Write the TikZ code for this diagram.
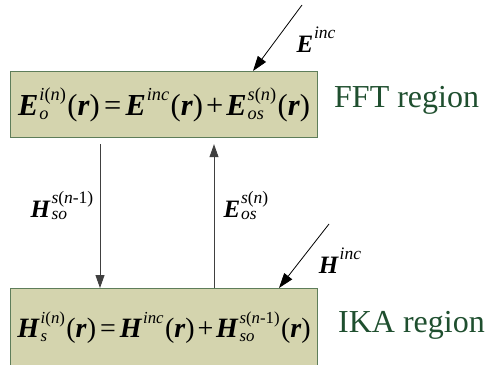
\documentclass[tikz,border=0pt]{standalone}
\usepackage{fontspec}
\setmainfont{Liberation Serif}
\usepackage{graphicx}
\usetikzlibrary{arrows.meta}
\definecolor{boxfill}{HTML}{D4D4AE}
\definecolor{boxline}{HTML}{5E7D5A}
\definecolor{regcol}{HTML}{1F4F2F}
\definecolor{vline}{HTML}{404040}
\newcommand{\bv}[1]{\textbf{\textit{#1}}}
\newsavebox\supbox
\newsavebox\subbox
\newcommand{\scrat}{0.6}
\newcommand{\suprise}{0.5em}
\newcommand{\subdrop}{-0.15em}
\newcommand{\Vsym}[3]{\bv{#1}\kern0.03em%
  \sbox\supbox{\scalebox{\scrat}{#2}}\sbox\subbox{\scalebox{\scrat}{#3}}%
  \rlap{\raisebox{\suprise}{\usebox\supbox}}\raisebox{\subdrop}{\usebox\subbox}%
  \ifdim\wd\supbox>\wd\subbox\kern\dimexpr\wd\supbox-\wd\subbox\relax\fi}
\newcommand{\pr}{\kern0.05em(\bv{r})}
\newcommand{\eqs}{\kern0.14em=\kern0.14em}
\newcommand{\pls}{\kern0.1em+\kern0.1em}
\begin{document}
\begin{tikzpicture}[x=1pt,y=-1pt,
  regbox/.style={draw=boxline, line width=1.2pt, fill=boxfill, inner sep=0pt,
    minimum width=307pt},
  reglabel/.style={text=regcol, font=\fontsize{32}{38}\selectfont, inner sep=0pt},
  flabel/.style={font={\fontsize{25}{30}\selectfont\renewcommand{\scrat}{0.7}\renewcommand{\suprise}{0.56em}\renewcommand{\subdrop}{-0.08em}}, inner sep=0pt},
  varrow/.style={draw=vline, line width=0.9pt, -{Triangle[length=13pt,width=9pt]}},
  darrow/.style={draw=black, line width=0.8pt, -{Triangle[length=15pt,width=10pt]}}]
\clip (0,0) rectangle (487,364);
\node[regbox, minimum height=66pt, anchor=north west, font=\fontsize{30.5}{36}\selectfont] (fft) at (10,71)
  {\Vsym{E}{\itshape i\upshape(\itshape n\upshape)}{\itshape o}\pr\eqs
   \Vsym{E}{\itshape inc}{}\pr\pls\Vsym{E}{\itshape s\upshape(\itshape n\upshape)}{\itshape os}\pr};
\node[regbox, minimum height=78pt, anchor=north west, font=\fontsize{28}{33}\selectfont] (ika) at (10,288)
  {\Vsym{H}{\itshape i\upshape(\itshape n\upshape)}{\itshape s}\pr\eqs
   \Vsym{H}{\itshape inc}{}\pr\pls\Vsym{H}{\itshape s\upshape(\itshape n\upshape-1)}{\itshape so}\pr};
\node[reglabel, anchor=west] (fftl) at (334,100) {FFT region};
\node[reglabel, anchor=west] (ikal) at (338,325) {IKA region};
\node[flabel] (hso) at (62,206) {\Vsym{H}{\itshape s\upshape(\itshape n\upshape-1)}{\itshape so}};
\node[flabel] (eos) at (246,206) {\Vsym{E}{\itshape s\upshape(\itshape n\upshape)}{\itshape os}};
\node[flabel] (einl) at (316,41) {\Vsym{E}{\itshape inc}{}};
\node[flabel] (hinl) at (340,262) {\Vsym{H}{\itshape inc}{}};
\coordinate (ein) at (302,5);
\coordinate (hin) at (329,224);
\draw[darrow] (ein) -- ([xshift=243pt]fft.north west);
\draw[darrow] (hin) -- ([xshift=269pt]ika.north west);
\draw[varrow, shorten <=6pt] ([xshift=90pt]fft.south west) -- ([xshift=90pt]ika.north west);
\draw[varrow, shorten >=6pt] ([xshift=204pt]ika.north west) -- ([xshift=204pt]fft.south west);
\end{tikzpicture}
\end{document}
